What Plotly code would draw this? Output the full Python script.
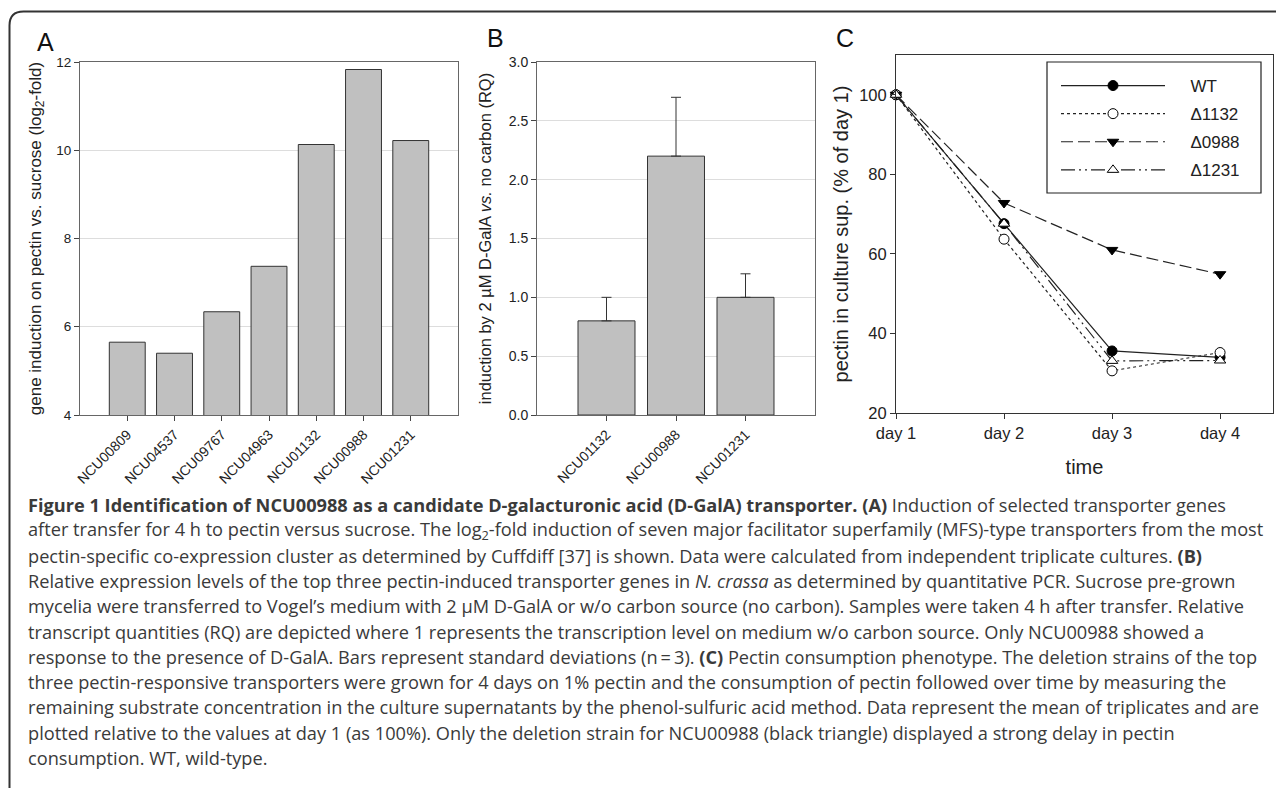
import plotly.graph_objects as go

# The page body keeps its default 8 px margin, so the figure is drawn 8 px in
# from the top-left corner of the 1284x788 window.
OFF = 8
W, H = 1284 - OFF, 788 - OFF

# ---------------- data ----------------
genes_a = ["NCU00809", "NCU04537", "NCU09767", "NCU04963", "NCU01132", "NCU00988", "NCU01231"]
induction_a = [5.65, 5.40, 6.34, 7.37, 10.13, 11.83, 10.22]

genes_b = ["NCU01132", "NCU00988", "NCU01231"]
rq_b = [0.8, 2.2, 1.0]
rq_sd_b = [0.2, 0.5, 0.2]

days = ["day 1", "day 2", "day 3", "day 4"]
wt = [100, 67.6, 35.6, 34.0]
d1132 = [100, 63.7, 30.6, 35.2]
d0988 = [100, 72.8, 61.0, 54.9]
d1231 = [100, 67.6, 33.1, 33.2]

ticks_a = [4, 6, 8, 10, 12]
ticks_b = [0.0, 0.5, 1.0, 1.5, 2.0, 2.5, 3.0]
ticks_c = [20, 40, 60, 80, 100]

caption_lines = [
    "<b>Figure 1 Identification of NCU00988 as a candidate D-galacturonic acid (D-GalA) transporter.</b> <b>(A)</b> Induction of selected transporter genes",
    "after transfer for 4 h to pectin versus sucrose. The log<sub>2</sub>-fold induction of seven major facilitator superfamily (MFS)-type transporters from the most",
    "pectin-specific co-expression cluster as determined by Cuffdiff [37] is shown. Data were calculated from independent triplicate cultures. <b>(B)</b>",
    "Relative expression levels of the top three pectin-induced transporter genes in <i>N. crassa</i> as determined by quantitative PCR. Sucrose pre-grown",
    "mycelia were transferred to Vogel\u2019s medium with 2 \u00b5M D-GalA or w/o carbon source (no carbon). Samples were taken 4 h after transfer. Relative",
    "transcript quantities (RQ) are depicted where 1 represents the transcription level on medium w/o carbon source. Only NCU00988 showed a",
    "response to the presence of D-GalA. Bars represent standard deviations (n\u2009=\u20093). <b>(C)</b> Pectin consumption phenotype. The deletion strains of the top",
    "three pectin-responsive transporters were grown for 4 days on 1% pectin and the consumption of pectin followed over time by measuring the",
    "remaining substrate concentration in the culture supernatants by the phenol-sulfuric acid method. Data represent the mean of triplicates and are",
    "plotted relative to the values at day 1 (as 100%). Only the deletion strain for NCU00988 (black triangle) displayed a strong delay in pectin",
    "consumption. WT, wild-type.",
]

# ---------------- helpers (window pixels -> paper fractions) ----------------
def px_x(p):
    return (p - OFF) / W

def px_y(p):
    return 1 - (p - OFF) / H

FONT = "Arial, Liberation Sans, sans-serif"
BAR_FILL = "#c0c0c0"
EDGE = "#333333"

fig = go.Figure()

# Panel A
fig.add_trace(go.Bar(
    x=genes_a, y=induction_a, width=0.76,
    marker=dict(color=BAR_FILL, line=dict(color=EDGE, width=1)),
    xaxis="x", yaxis="y", showlegend=False,
))

# Panel B
fig.add_trace(go.Bar(
    x=genes_b, y=rq_b, width=0.82,
    marker=dict(color=BAR_FILL, line=dict(color=EDGE, width=1)),
    error_y=dict(type="data", symmetric=False, array=rq_sd_b, arrayminus=[0] * len(rq_sd_b),
                 color=EDGE, thickness=1, width=5),
    xaxis="x2", yaxis="y2", showlegend=False,
))

# Panel C
line_col = "#222222"
GAP = "\u2003\u2009"
series_c = [
    ("WT", wt, "solid", dict(symbol="circle", color="black", size=10, line=dict(color="black", width=1))),
    ("\u03941132", d1132, "dot", dict(symbol="circle", color="white", size=10, line=dict(color="black", width=1))),
    ("\u03940988", d0988, "12px,5px", dict(symbol="triangle-down", color="black", size=10, line=dict(color="black", width=1))),
    ("\u03941231", d1231, "14px,4px,2px,4px,2px,4px", dict(symbol="triangle-up", color="white", size=10, line=dict(color="black", width=1))),
]
for i, (name, vals, dash, mk) in enumerate(series_c):
    fig.add_trace(go.Scatter(
        x=days, y=vals, name=GAP + name, mode="lines+markers",
        line=dict(color=line_col, width=1.2, dash=dash), marker=mk,
        xaxis="x3", yaxis="y3", cliponaxis=False, legendgroup=f"g{i}",
    ))

axis_common = dict(showline=True, linewidth=1, mirror=True, ticks="outside", ticklen=5,
                   tickwidth=1, zeroline=False, automargin=False)

fig.update_layout(
    width=W, height=H,
    margin=dict(l=0, r=0, t=0, b=0, autoexpand=False),
    paper_bgcolor="white", plot_bgcolor="white",
    font=dict(family=FONT, color="#222222", size=14),
    # ---- A ----
    xaxis=dict(domain=[px_x(80), px_x(458)], anchor="y", type="category", range=[-1, 7],
               linecolor="#666666", tickcolor="#444444", tickangle=-45,
               tickfont=dict(size=14), showgrid=False, **axis_common),
    yaxis=dict(domain=[px_y(415), px_y(62)], anchor="x", range=[4, 12], tickvals=ticks_a,
               linecolor="#666666", tickcolor="#444444", showgrid=True, gridcolor="#dddddd",
               tickfont=dict(size=13.5),
               title=dict(text="gene induction on pectin vs. sucrose (log<sub>2</sub>-fold)",
                          font=dict(size=17), standoff=10),
               **axis_common),
    # ---- B ----
    xaxis2=dict(domain=[px_x(537), px_x(815)], anchor="y2", type="category", range=[-1, 3],
                linecolor="#666666", tickcolor="#444444", tickangle=-45,
                tickfont=dict(size=14), showgrid=False, **axis_common),
    yaxis2=dict(domain=[px_y(415), px_y(62)], anchor="x2", range=[0, 3], tickvals=ticks_b,
                tickformat=".1f", linecolor="#666666", tickcolor="#444444", showgrid=True,
                gridcolor="#dddddd", tickfont=dict(size=14),
                title=dict(text="induction by 2 \u00b5M D-GalA <i>vs.</i> no carbon (RQ)",
                           font=dict(size=16.5), standoff=12),
                **axis_common),
    # ---- C ----
    xaxis3=dict(domain=[px_x(896), px_x(1273)], anchor="y3", type="category", range=[0, 3.49],
                linecolor="#333333", tickcolor="#333333", showgrid=False,
                tickfont=dict(size=16.5),
                title=dict(text="time", font=dict(size=20), standoff=19),
                **axis_common),
    yaxis3=dict(domain=[px_y(413), px_y(55)], anchor="x3", range=[20, 110], tickvals=ticks_c,
                linecolor="#333333", tickcolor="#333333", showgrid=False,
                tickfont=dict(size=16.5),
                title=dict(text="pectin in culture sup. (% of day 1)", font=dict(size=20), standoff=5),
                **axis_common),
    showlegend=True,
    legend=dict(x=px_x(1056), y=px_y(68), xanchor="left", yanchor="top",
                bgcolor="rgba(0,0,0,0)", borderwidth=0, font=dict(size=17, family=FONT),
                tracegroupgap=3, itemwidth=104, traceorder="grouped"),
)

# Outer rounded frame
r = 14
x0, yt = 9.5, 11.5
path = (f"M {px_x(x0)},{-0.02} L {px_x(x0)},{px_y(yt + r)} "
        f"Q {px_x(x0)},{px_y(yt)} {px_x(x0 + r)},{px_y(yt)} L 1.02,{px_y(yt)}")
fig.add_shape(type="path", path=path, xref="paper", yref="paper",
              line=dict(color="#333333", width=2))

# Legend frame
fig.add_shape(type="rect", xref="paper", yref="paper",
              x0=px_x(1047), x1=px_x(1261), y0=px_y(193), y1=px_y(62),
              line=dict(color="#222222", width=1.2))

# Panel letters
for letter, lx, ly in [("A", 45, 42), ("B", 495, 38), ("C", 845, 38)]:
    fig.add_annotation(text=letter, x=px_x(lx), y=px_y(ly), xref="paper", yref="paper",
                       showarrow=False, xanchor="center", yanchor="middle",
                       font=dict(size=25, family=FONT, color="#111111"))

# Caption
cap_top, cap_step = 505, 25.3
for i, line in enumerate(caption_lines):
    fig.add_annotation(text=line, x=px_x(26), y=px_y(cap_top + i * cap_step),
                       xref="paper", yref="paper", showarrow=False,
                       xanchor="left", yanchor="middle", align="left",
                       font=dict(size=18.2, family="Open Sans, sans-serif", color="#3a3a3a"))

fig.write_html("out.html")
